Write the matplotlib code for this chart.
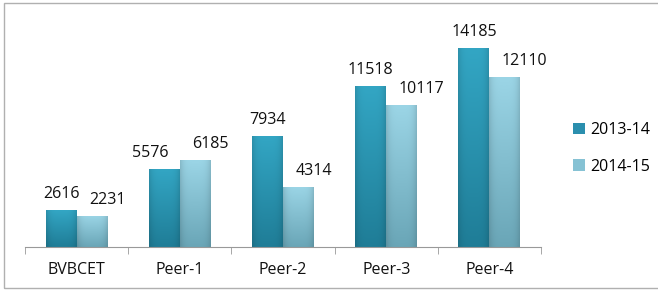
import matplotlib.pyplot as plt
import numpy as np
from matplotlib.patches import Rectangle
from matplotlib.colors import to_rgb

categories = ['BVBCET', 'Peer-1', 'Peer-2', 'Peer-3', 'Peer-4']
series_names = ['2013-14', '2014-15']
values_2013 = [2616, 5576, 7934, 11518, 14185]
values_2014 = [2231, 6185, 4314, 10117, 12110]

# (top, bottom) shade of each series, plus the flat legend colour
shades = [('#33a6c4', '#1f7d97'), ('#9bd5e6', '#6aa6b7')]
colors = ['#2b8fae', '#86c2d4']

plt.rcParams['font.family'] = ['Open Sans', 'DejaVu Sans']
fig = plt.figure(figsize=(6.58, 2.9), dpi=100)
ax = fig.add_axes([25 / 658, 43 / 290, 516 / 658, 224 / 290])


def shaded(top, bottom):
    t = np.array(to_rgb(top))
    b = np.array(to_rgb(bottom))
    v = np.linspace(0, 1, 60)[:, None, None]
    img = t * (1 - v) + b * v
    h = np.linspace(-1, 1, 30)[None, :, None]
    img = img * (1 - 0.12 * h ** 4)
    return np.clip(np.broadcast_to(img, (60, 30, 3)), 0, 1)


x = np.arange(len(categories))
w = 0.3
fs = 11.5
for i, (vals, off, name) in enumerate([(values_2013, -w / 2, series_names[0]),
                                       (values_2014, w / 2, series_names[1])]):
    bars = ax.bar(x + off, vals, width=w, color=colors[i], edgecolor='none', label=name)
    img = shaded(*shades[i])
    for j, (b, v) in enumerate(zip(bars, vals)):
        x0 = b.get_x()
        im = ax.imshow(img, extent=[x0, x0 + w, 0, v], aspect='auto', zorder=2)
        im.set_clip_path(b)
        cx = x0 + w / 2
        if i == 0:
            dx = -14 if j == 1 else 0
            ax.annotate(str(v), (cx, v), xytext=(dx, 12), textcoords='offset pixels',
                        ha='center', va='baseline', fontsize=fs, color='#111111')
        else:
            ax.annotate(str(v), (cx, v), xytext=(-3, 12), textcoords='offset pixels',
                        ha='left', va='baseline', fontsize=fs, color='#111111')

ax.set_xlim(-0.5, len(categories) - 0.5)
ax.set_ylim(0, 16000)
ax.set_yticks([])
for s in ['top', 'right', 'left']:
    ax.spines[s].set_visible(False)
ax.spines['bottom'].set_color('#999999')
ax.spines['bottom'].set_zorder(3)
ax.set_xticks(x)
ax.set_xticklabels(categories, fontsize=fs, color='#111111')
ax.tick_params(axis='x', which='major', length=0, pad=11)
ax.set_xticks(np.arange(len(categories) + 1) - 0.5, minor=True)
ax.tick_params(axis='x', which='minor', length=5, color='#999999')

ax.legend(loc='center left', bbox_to_anchor=(1.035, 0.44), frameon=False, fontsize=fs,
          handlelength=0.75, handleheight=0.75, handletextpad=0.3, labelspacing=1.3)

fig.patches.append(Rectangle((4 / 658, 2 / 290), 660 / 658, 285 / 290, transform=fig.transFigure,
                             fill=False, edgecolor='#b0b0b0', linewidth=1))

plt.savefig('out.png', dpi=100)
